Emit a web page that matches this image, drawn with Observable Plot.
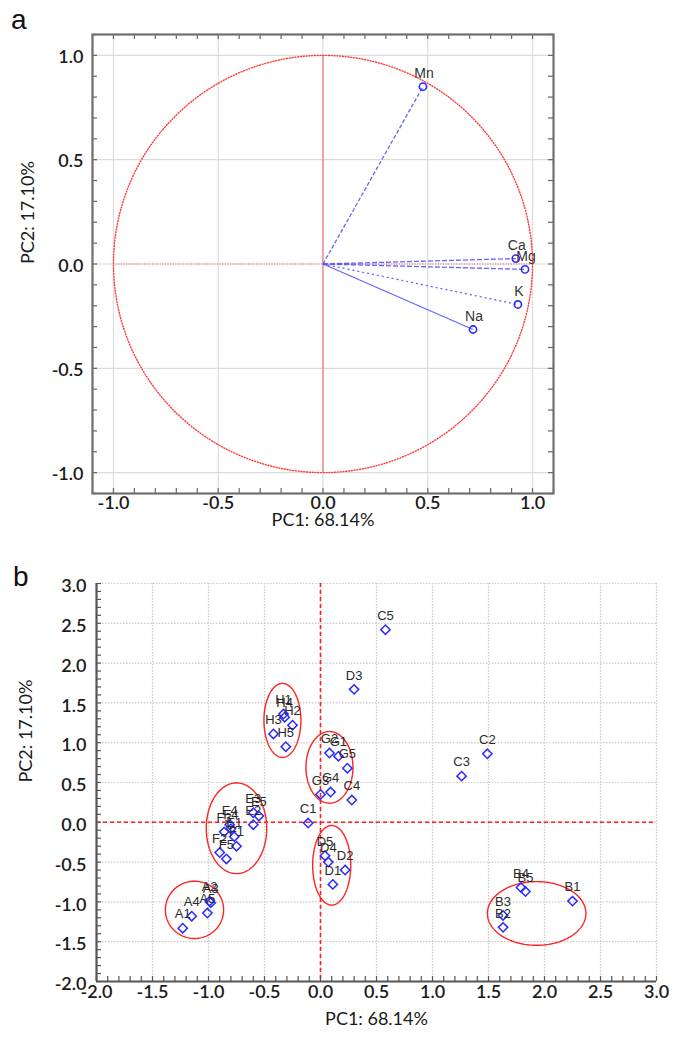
<!DOCTYPE html>
<html><head><meta charset="utf-8">
<script src="https://cdn.jsdelivr.net/npm/d3@7"></script>
<script src="https://cdn.jsdelivr.net/npm/@observablehq/plot@0.6"></script>
<style>
body{margin:0;background:#fff;}
.panel{position:relative;width:684px;}
.letter{position:absolute;font-size:28px;font-family:"Liberation Sans",Arial,sans-serif;color:#111;line-height:1;}
svg{display:block;overflow:visible}
</style></head><body>
<div class="panel" id="pa"><div class="letter" style="left:11px;top:6px">a</div></div>
<div class="panel" id="pb"><div class="letter" style="left:13px;top:18px">b</div></div>
<script>
// ---------- Panel a: loadings ----------
const variables   = ["Mn", "Ca", "Mg", "K", "Na"];
const pc1Loadings = [0.477, 0.92, 0.964, 0.93, 0.716];
const pc2Loadings = [0.85, 0.026, -0.026, -0.194, -0.314];
const ticksA = [-1.0, -0.5, 0.0, 0.5, 1.0];

// ---------- Panel b: scores ----------
const samples = ["A1","A2","A3","A4","A5","B1","B2","B3","B4","B5",
                 "C1","C2","C3","C4","C5","D1","D2","D3","D4","D5",
                 "E1","E2","E3","E4","E5","F1","F2","F3","F4","F5",
                 "G1","G2","G3","G4","G5","H1","H2","H3","H4","H5"];
const pc1Scores = [-1.23,-0.99,-0.98,-1.15,-1.01, 2.25,1.63,1.63,1.79,1.83,
                   -0.11,1.49,1.26,0.28,0.58, 0.11,0.22,0.30,0.07,0.04,
                   -0.77,-0.60,-0.60,-0.81,-0.55, -0.75,-0.90,-0.86,-0.80,-0.84,
                   0.16,0.08,0.00,0.09,0.24, -0.33,-0.25,-0.42,-0.32,-0.31];
const pc2Scores = [-1.33,-0.99,-1.01,-1.18,-1.14, -0.99,-1.32,-1.17,-0.82,-0.87,
                   -0.01,0.86,0.58,0.28,2.42, -0.78,-0.60,1.67,-0.50,-0.42,
                   -0.18,-0.03,0.12,-0.03,0.08, -0.30,-0.38,-0.12,-0.08,-0.46,
                   0.83,0.87,0.35,0.38,0.68, 1.36,1.22,1.11,1.32,0.95];
const ticksB = [-2.0,-1.5,-1.0,-0.5,0.0,0.5,1.0,1.5,2.0,2.5,3.0];

// group ellipses (centre and semi-axes in PC units)
const ellGroups = ["A","B","D","EF","G","H"];
const ellCx = [-1.125, 1.93, 0.10, -0.75, 0.08, -0.34];
const ellCy = [-1.10, -1.145, -0.54, -0.075, 0.69, 1.28];
const ellRx = [0.26, 0.44, 0.17, 0.27, 0.21, 0.165];
const ellRy = [0.36, 0.40, 0.50, 0.57, 0.45, 0.465];

// ---------- derived tables ----------
const fmt = d => d.toFixed(1);
const loadings = variables.map((v,i) => ({name: v, x: pc1Loadings[i], y: pc2Loadings[i]}));
const scores = samples.map((s,i) => ({id: s, x: pc1Scores[i], y: pc2Scores[i]}));
const angles = d3.range(0, 361, 2).map(a => a * Math.PI / 180);
const unitCircle = angles.map(t => ({x: Math.cos(t), y: Math.sin(t)}));
const ellipsePts = ellGroups.flatMap((g,i) => angles.map(t => ({group: g,
  x: ellCx[i] + ellRx[i]*Math.cos(t), y: ellCy[i] + ellRy[i]*Math.sin(t)})));
const minorA = d3.range(-11, 12).map(i => i/10);
const minorB = d3.range(-20, 31).map(i => i/10);

const dashOf = {Mn: "4,2", Ca: "5,2", Mg: "5,2", K: "2,3", Na: null};
const tickFont = {fontFamily: "Lato, 'Open Sans', sans-serif", fontSize: 18, fontWeight: 600, fill: "#1a1a1a"};
const titleFont = {fontFamily: "Lato, 'Open Sans', sans-serif", fontSize: 18, fill: "#1a1a1a"};
const blue = "#2b2bff";

// ---------- Panel a ----------
const HA = 545, mTA = 34, mBA = 52, mLA = 92, mRA = 131;
const fwA = 684 - mLA - mRA, fhA = HA - mTA - mBA;
const linkMarks = variables.map(v => Plot.link(loadings.filter(d => d.name === v), {
  x1: 0, y1: 0, x2: "x", y2: "y", stroke: "#4a4aff", strokeWidth: 1.3,
  strokeDasharray: dashOf[v] || undefined, strokeOpacity: 0.85}));
const plotA = Plot.plot({
  width: 684, height: HA, marginTop: mTA, marginBottom: mBA, marginLeft: mLA, marginRight: mRA,
  x: {domain: [-1.1, 1.1], axis: null},
  y: {domain: [-1.1, 1.1], axis: null},
  style: {background: "#fff", overflow: "visible"},
  marks: [
    Plot.ruleX(ticksA, {stroke: "#dcdcdc", strokeWidth: 1.2}),
    Plot.ruleY(ticksA, {stroke: "#dcdcdc", strokeWidth: 1.2}),
    Plot.ruleY([0], {x1: -1, x2: 1, stroke: "#ff4a4a", strokeWidth: 1.2, strokeDasharray: "1,1.6"}),
    Plot.ruleX([0], {y1: -1, y2: 1, stroke: "#ff5a5a", strokeWidth: 1}),
    Plot.line(unitCircle, {x: "x", y: "y", stroke: "#ff3a3a", strokeWidth: 1.4, strokeDasharray: "1,1.8"}),
    ...linkMarks,
    Plot.dot(loadings, {x: "x", y: "y", r: 3.6, stroke: blue, strokeWidth: 1.6, fill: "none"}),
    Plot.text(loadings, {x: "x", y: "y", text: "name", dy: -13, dx: 1, fontSize: 14,
      fontFamily: "'Liberation Sans', Arial, sans-serif", fill: "#333"}),
    // inward minor ticks on all four sides
    Plot.ruleX(minorA, {insetTop: fhA - 5, stroke: "#666", strokeWidth: 1.2}),
    Plot.ruleX(minorA, {insetBottom: fhA - 5, stroke: "#666", strokeWidth: 1.2}),
    Plot.ruleY(minorA, {insetRight: fwA - 5, stroke: "#666", strokeWidth: 1.2}),
    Plot.ruleY(minorA, {insetLeft: fwA - 5, stroke: "#666", strokeWidth: 1.2}),
    Plot.frame({stroke: "#6e6e6e", strokeWidth: 2.2}),
    Plot.text(ticksA, {x: d => d, text: fmt, frameAnchor: "bottom", dy: 15, ...tickFont}),
    Plot.text(ticksA, {y: d => d, text: fmt, frameAnchor: "left", textAnchor: "end", dx: -9, dy: 2, ...tickFont}),
    Plot.text(["PC1: 68.14%"], {frameAnchor: "bottom", dy: 32, ...titleFont}),
    Plot.text(["PC2: 17.10%"], {frameAnchor: "left", rotate: -90, dx: -64, ...titleFont})
  ]
});
document.getElementById("pa").appendChild(plotA);

// ---------- Panel b ----------
const HB = 492, mTB = 38, mBB = 56, mLB = 96, mRB = 28;
const fwB = 684 - mLB - mRB, fhB = HB - mTB - mBB;
const plotB = Plot.plot({
  width: 684, height: HB, marginTop: mTB, marginBottom: mBB, marginLeft: mLB, marginRight: mRB,
  x: {domain: [-2, 3], axis: null},
  y: {domain: [-2, 3], axis: null},
  style: {background: "#fff", overflow: "visible"},
  marks: [
    Plot.ruleX(ticksB, {stroke: "#c9c9c9", strokeWidth: 1.2, strokeDasharray: "1.5,1.5"}),
    Plot.ruleY(ticksB, {stroke: "#c9c9c9", strokeWidth: 1.2, strokeDasharray: "1.5,1.5"}),
    Plot.ruleX([0], {stroke: "#ff2020", strokeWidth: 1.6, strokeDasharray: "4,3"}),
    Plot.ruleY([0], {stroke: "#ff2020", strokeWidth: 1.6, strokeDasharray: "4,3"}),
    Plot.line(ellipsePts, {x: "x", y: "y", z: "group", stroke: "#ff2424", strokeWidth: 1.4}),
    Plot.dot(scores, {x: "x", y: "y", symbol: "diamond2", r: 4.2, stroke: blue, strokeWidth: 1.5, fill: "none"}),
    Plot.text(scores, {x: "x", y: "y", text: "id", dy: -14, fontSize: 13,
      fontFamily: "'Liberation Sans', Arial, sans-serif", fill: "#2a2a2a"}),
    Plot.ruleX(minorB, {insetTop: fhB - 5, stroke: "#555", strokeWidth: 1.2}),
    Plot.ruleY(minorB, {insetRight: fwB - 5, stroke: "#555", strokeWidth: 1.2}),
    Plot.ruleX([-2], {stroke: "#555", strokeWidth: 2.2}),
    Plot.ruleY([-2], {stroke: "#555", strokeWidth: 2.2}),
    Plot.text(ticksB, {x: d => d, text: fmt, frameAnchor: "bottom", dy: 16, ...tickFont}),
    Plot.text(ticksB, {y: d => d, text: fmt, frameAnchor: "left", textAnchor: "end", dx: -10, dy: 3, ...tickFont}),
    Plot.text(["PC1: 68.14%"], {frameAnchor: "bottom", dy: 43, ...titleFont}),
    Plot.text(["PC2: 17.10%"], {frameAnchor: "left", rotate: -90, dx: -70, ...titleFont})
  ]
});
document.getElementById("pb").appendChild(plotB);
</script>
</body></html>
